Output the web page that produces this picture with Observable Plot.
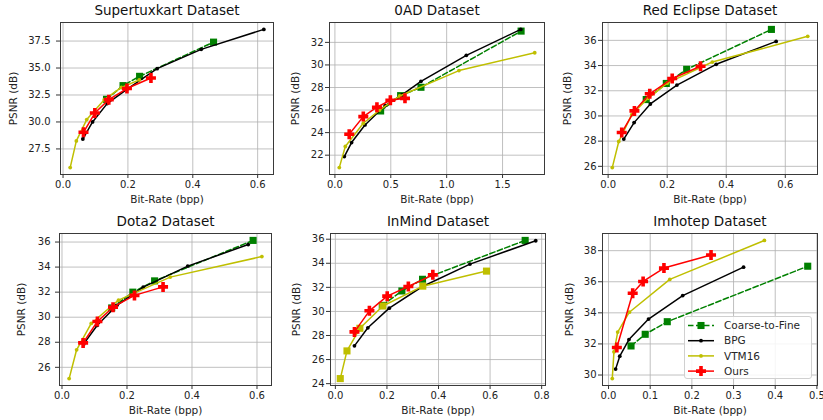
<!DOCTYPE html>
<html><head><meta charset="utf-8">
<script src="https://cdn.jsdelivr.net/npm/d3@7"></script>
<script src="https://cdn.jsdelivr.net/npm/@observablehq/plot@0.6"></script>
<style>
body{margin:0;background:#fff;font-family:"DejaVu Sans",sans-serif}
#wrap{position:relative;width:823px;height:420px;overflow:hidden}
#wrap svg{position:absolute}
.legend{position:absolute;left:684px;top:316px;width:128px;height:63px;box-sizing:border-box;border:1px solid #d0d0d0;border-radius:3px;background:rgba(255,255,255,0.85);font-size:10.5px;color:#262626}
</style>
</head><body><div id="wrap"></div>
<script>
// ---- data: [bit-rate (bpp), PSNR (dB)] ----
const titles = ["Supertuxkart Dataset","0AD Dataset","Red Eclipse Dataset","Dota2 Dataset","InMind Dataset","Imhotep Dataset"];
const methods = ["Coarse-to-Fine","BPG","VTM16","Ours"];

const stk_c2f = [[0.134,32.1],[0.185,33.37],[0.236,34.23],[0.464,37.4]];
const stk_bpg = [[0.061,28.42],[0.091,30.0],[0.136,31.7],[0.2,33.1],[0.29,34.94],[0.426,36.73],[0.619,38.58]];
const stk_vtm = [[0.022,25.77],[0.041,28.24],[0.073,30.22],[0.127,32.07],[0.18,33.2],[0.235,33.9]];
const stk_ours = [[0.063,29.04],[0.098,30.83],[0.141,32.07],[0.197,33.1],[0.271,34.07]];

const oad_c2f = [[0.409,25.92],[0.588,27.28],[0.77,28.02],[1.666,33.0]];
const oad_bpg = [[0.084,21.88],[0.149,23.12],[0.269,24.68],[0.45,26.4],[0.6,27.35],[0.77,28.55],[1.176,30.85],[1.663,33.15]];
const oad_vtm = [[0.039,20.9],[0.093,22.77],[0.254,24.83],[0.4,26.0],[0.58,27.25],[1.11,29.5],[1.788,31.08]];
const oad_ours = [[0.128,23.86],[0.254,25.42],[0.376,26.25],[0.496,26.87],[0.627,27.04]];

const re_c2f = [[0.129,31.3],[0.197,32.58],[0.266,33.7],[0.553,36.87]];
const re_bpg = [[0.053,28.16],[0.088,29.47],[0.143,30.95],[0.233,32.45],[0.366,34.1],[0.569,35.92]];
const re_vtm = [[0.014,25.9],[0.036,27.97],[0.08,30.1],[0.135,31.4],[0.2,32.6],[0.353,34.28],[0.676,36.32]];
const re_ours = [[0.046,28.68],[0.089,30.4],[0.141,31.76],[0.217,32.97],[0.313,33.95]];

const dota_c2f = [[0.153,30.74],[0.218,32.0],[0.285,32.9],[0.588,36.13]];
const dota_bpg = [[0.067,27.87],[0.108,29.34],[0.169,30.95],[0.25,32.4],[0.387,34.08],[0.573,35.8]];
const dota_vtm = [[0.022,25.1],[0.045,27.4],[0.09,29.5],[0.174,31.36],[0.333,33.2],[0.615,34.84]];
const dota_ours = [[0.065,27.95],[0.109,29.66],[0.157,30.8],[0.223,31.74],[0.311,32.42]];

const im_c2f = [[0.182,30.5],[0.258,31.7],[0.338,32.67],[0.736,35.9]];
const im_bpg = [[0.074,27.14],[0.126,28.64],[0.209,30.27],[0.336,32.05],[0.522,33.93],[0.777,35.87]];
const im_vtm = [[0.019,24.42],[0.045,26.72],[0.095,28.6],[0.184,30.45],[0.339,32.1],[0.586,33.35]];
const im_ours = [[0.074,28.3],[0.132,30.05],[0.201,31.27],[0.283,32.07],[0.378,33.04]];

const ih_c2f = [[0.054,31.87],[0.088,32.62],[0.141,33.43],[0.478,37.0]];
const ih_bpg = [[0.017,30.38],[0.027,31.21],[0.049,32.28],[0.096,33.6],[0.178,35.11],[0.324,36.94]];
const ih_vtm = [[0.009,29.77],[0.013,31.49],[0.022,32.76],[0.05,34.04],[0.147,36.15],[0.374,38.66]];
const ih_ours = [[0.02,31.77],[0.058,35.26],[0.083,36.02],[0.133,36.88],[0.246,37.72]];

const xTicks = [[0,0.2,0.4,0.6],[0,0.5,1,1.5],[0,0.2,0.4,0.6],[0,0.2,0.4,0.6],[0,0.2,0.4,0.6,0.8],[0,0.1,0.2,0.3,0.4,0.5]];
const yTicks = [[27.5,30,32.5,35,37.5],[22,24,26,28,30,32],[26,28,30,32,34,36],[26,28,30,32,34,36],[24,26,28,30,32,34,36],[30,32,34,36,38]];
const yFormats = [".1f","d","d","d","d","d"];

const series = [
  [stk_c2f, stk_bpg, stk_vtm, stk_ours],
  [oad_c2f, oad_bpg, oad_vtm, oad_ours],
  [re_c2f, re_bpg, re_vtm, re_ours],
  [dota_c2f, dota_bpg, dota_vtm, dota_ours],
  [im_c2f, im_bpg, im_vtm, im_ours],
  [ih_c2f, ih_bpg, ih_vtm, ih_ours]
];

// ---- layout & style ----
const layout = [
  {left:0,   top:0,   width:275, height:210, mL:60, mR:2, mT:22, mB:36, yl:-47, tp:6},
  {left:275, top:0,   width:273, height:210, mL:54, mR:4, mT:22, mB:36, yl:-34, tp:2},
  {left:548, top:0,   width:275, height:210, mL:54, mR:6, mT:22, mB:36, yl:-35, tp:2},
  {left:0,   top:210, width:275, height:210, mL:59, mR:4, mT:23, mB:35, yl:-38, tp:5},
  {left:275, top:210, width:273, height:210, mL:55, mR:3, mT:23, mB:35, yl:-34, tp:2},
  {left:548, top:210, width:275, height:210, mL:54, mR:6, mT:23, mB:35, yl:-33, tp:2}
];

const plusSymbol = {
  draw(ctx, size) {
    const r = Math.sqrt(size / Math.PI), t = r * 0.36;
    ctx.moveTo(-t,-r); ctx.lineTo(t,-r); ctx.lineTo(t,-t); ctx.lineTo(r,-t);
    ctx.lineTo(r,t); ctx.lineTo(t,t); ctx.lineTo(t,r); ctx.lineTo(-t,r);
    ctx.lineTo(-t,t); ctx.lineTo(-r,t); ctx.lineTo(-r,-t); ctx.lineTo(-t,-t); ctx.closePath();
  }
};
const styles = [
  {color:"#008000", dash:"5.5,2.5", symbol:"square", r:4},
  {color:"#000000", dash:null, symbol:"circle", r:1.9},
  {color:"#bfbf00", dash:null, symbol:"circle", r:1.9},
  {color:"#ff0000", dash:null, symbol:plusSymbol, r:5}
];

function pad(ext){ const d = (ext[1]-ext[0])*0.05; return [ext[0]-d, ext[1]+d]; }

const wrap = document.getElementById("wrap");
series.forEach((sers, i) => {
  const L = layout[i];
  const all = sers.flat();
  const xd = pad(d3.extent(all, d => d[0]));
  const yd = pad(d3.extent(all, d => d[1]));
  const marks = [
    Plot.gridX(xTicks[i], {stroke:"#b0b0b0", strokeOpacity:0.8, strokeWidth:1}),
    Plot.gridY(yTicks[i], {stroke:"#b0b0b0", strokeOpacity:0.8, strokeWidth:1})
  ];
  sers.forEach((data, k) => {
    const s = styles[k];
    const sym = (i === 4 && k === 2) ? "square" : s.symbol;   // InMind VTM16 drawn with squares
    const rr = (i === 4 && k === 2) ? 4 : s.r;
    marks.push(Plot.line(data, {x: d => d[0], y: d => d[1], stroke: s.color, strokeWidth: 1.5, strokeDasharray: s.dash}));
    marks.push(Plot.dot(data, {x: d => d[0], y: d => d[1], fill: s.color, stroke: "none", symbol: sym, r: rr}));
  });
  marks.push(
    Plot.frame({stroke:"#3a3a3a", strokeWidth:1}),
    Plot.axisX(xTicks[i], {tickFormat: d3.format(".1f"), tickSize:4, tickPadding:2.5, label:null, fontSize:10, stroke:"#333"}),
    Plot.axisY(yTicks[i], {tickFormat: d3.format(yFormats[i]), tickSize:4, tickPadding:L.tp, label:null, fontSize:10, stroke:"#333"}),
    Plot.text([titles[i]], {text: d => d, frameAnchor:"top", lineAnchor:"middle", textAnchor:"middle", dy:-11.5, fontSize:13.5, fill:"#111"}),
    Plot.text(["Bit-Rate (bpp)"], {text: d => d, frameAnchor:"bottom", lineAnchor:"middle", textAnchor:"middle", dy:25.5, fontSize:10.5, fill:"#222"}),
    Plot.text(["PSNR (dB)"], {text: d => d, frameAnchor:"left", lineAnchor:"middle", textAnchor:"middle", dx:L.yl, rotate:-90, fontSize:10.5, fill:"#222"})
  );
  const chart = Plot.plot({
    width: L.width, height: L.height,
    marginLeft: L.mL, marginRight: L.mR, marginTop: L.mT, marginBottom: L.mB,
    style: {fontFamily: "DejaVu Sans, sans-serif", fontSize: "10px", color: "#222", background: "transparent", overflow: "visible"},
    x: {domain: xd},
    y: {domain: yd},
    marks
  });
  chart.style.left = L.left + "px";
  chart.style.top = L.top + "px";
  wrap.appendChild(chart);
});

// ---- legend ----
const leg = document.createElement("div");
leg.className = "legend";
wrap.appendChild(leg);
const lsvg = d3.select(leg).append("svg").attr("width", 126).attr("height", 61).style("position","absolute").style("left","0").style("top","0");
methods.forEach((m, k) => {
  const s = styles[k];
  const cy = 8.5 + k * 15.2;
  const g = lsvg.append("g");
  g.append("line").attr("x1", 3).attr("x2", 29).attr("y1", cy).attr("y2", cy)
    .attr("stroke", s.color).attr("stroke-width", 1.5).attr("stroke-dasharray", s.dash);
  g.append("path").attr("transform", `translate(16,${cy})`)
    .attr("d", d3.symbol(typeof s.symbol === "string" ? (s.symbol === "square" ? d3.symbolSquare : d3.symbolCircle) : s.symbol, s.r * s.r * Math.PI)())
    .attr("fill", s.color);
  g.append("text").attr("x", 39).attr("y", cy).attr("dy", "0.35em").attr("font-size", 10.5)
    .attr("font-family", "DejaVu Sans, sans-serif").attr("fill", "#262626").text(m);
});
</script>
</body></html>
